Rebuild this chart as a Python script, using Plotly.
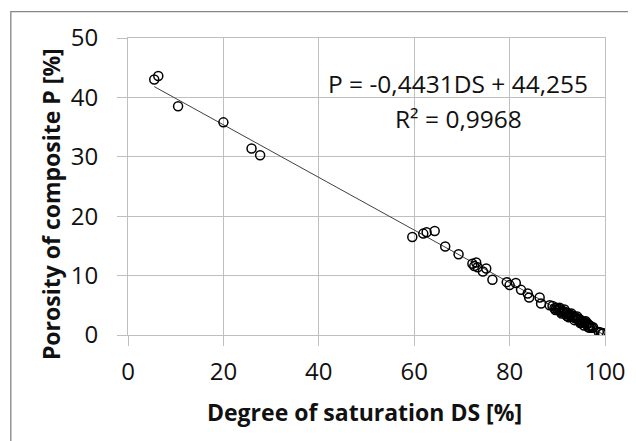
import plotly.graph_objects as go

# Data
ds = [5.5, 6.35, 10.5, 20.0, 25.9, 27.7,
      59.6, 61.9, 62.6, 64.3, 66.5, 69.3,
      72.2, 72.6, 73.0, 73.3, 74.4, 75.1, 76.4,
      79.4, 80.0, 81.3, 82.4, 83.8, 84.1, 86.3, 86.6, 88.4,
      89.0, 89.4, 89.8, 90.1, 90.4, 90.5, 90.7, 91.0, 91.3, 91.5, 91.6, 91.9,
      92.0, 92.2, 92.5, 92.8, 93.0, 93.1, 93.4, 93.7, 94.0, 94.2, 94.3, 94.6,
      94.9, 95.0, 95.2, 95.5, 95.8, 96.0, 96.1, 96.4, 96.7, 96.8, 97.0, 97.3, 97.5,
      89.6, 90.9, 92.4, 93.6, 94.8, 95.6, 96.5,
      98.7, 99.1, 99.4, 99.6]
porosity = [43.0, 43.6, 38.5, 35.8, 31.4, 30.25,
            16.5, 17.07, 17.3, 17.5, 14.9, 13.6,
            12.0, 11.6, 12.2, 11.4, 10.7, 11.2, 9.3,
            8.9, 8.4, 8.75, 7.6, 7.0, 6.3, 6.3, 5.3, 5.0,
            4.9, 4.5, 4.6, 4.2, 4.4, 4.6, 3.9, 4.1, 3.8, 4.3, 3.9, 3.6,
            3.2, 3.7, 3.3, 3.4, 3.6, 3.1, 3.2, 2.8, 2.9, 3.1, 2.6, 2.7,
            2.3, 2.0, 2.4, 2.1, 2.2, 2.3, 1.8, 1.9, 1.6, 1.2, 1.5, 1.2, 1.3,
            4.2, 3.6, 3.0, 2.5, 2.0, 1.6, 1.3,
            0.5, 0.4, 0.2, 0.3]

slope = -0.4431
intercept = 44.255
r2 = 0.9968

x_ticks = [0, 20, 40, 60, 80, 100]
y_ticks = [0, 10, 20, 30, 40, 50]

x_title = "Degree of saturation DS [%]"
y_title = "Porosity of composite P [%]"
eq_text = "P = -0,4431DS + 44,255"
r2_text = "R² = 0,9968"

trend_x = [min(ds), max(ds)]
trend_y = [slope * v + intercept for v in trend_x]

FONT = "Open Sans"
GRID = "#bfbfbf"

fig = go.Figure()
fig.add_trace(go.Scatter(x=trend_x, y=trend_y, mode="lines",
                         line=dict(color="#404040", width=1),
                         hoverinfo="skip", showlegend=False))
fig.add_trace(go.Scatter(x=ds, y=porosity, mode="markers",
                         marker=dict(symbol="circle-open", size=9, color="black",
                                     line=dict(width=1.5, color="black")),
                         showlegend=False))

axis_common = dict(showgrid=True, gridcolor=GRID, gridwidth=1,
                   showline=True, linecolor=GRID, linewidth=1, mirror=True,
                   ticks="outside", ticklen=10, tickcolor=GRID, tickwidth=1,
                   zeroline=False, ticklabeloverflow="allow",
                   tickfont=dict(family=FONT, size=24, color="#111111"))

fig.update_xaxes(range=[0, 100], tickvals=x_ticks, ticklabelstandoff=5, **axis_common)
fig.update_yaxes(range=[0, 50], tickvals=y_ticks, ticklabelstandoff=14, **axis_common)

# page body has an 8px margin, so the figure is shifted by OFF on screen
OFF = 8
W, H = 636, 441
L, T = 128 - OFF, 38 - OFF
pw, ph = 477.5, 297
R = W - L - pw
B = H - T - ph


def px(xs):
    return (xs - OFF - L) / pw


def py(ys):
    return (T + ph - (ys - OFF)) / ph


fig.add_shape(type="rect", xref="paper", yref="paper",
              x0=px(322), x1=px(598), y0=py(138), y1=py(62),
              fillcolor="white", line=dict(width=0), layer="between")
fig.add_shape(type="rect", xref="paper", yref="paper",
              x0=px(10.7), x1=px(700), y0=py(500), y1=py(11.7),
              fillcolor="rgba(0,0,0,0)", line=dict(color="#868686", width=1.3))

fig.add_annotation(text=eq_text, xref="paper", yref="paper",
                   x=px(458.5), y=py(83.3), showarrow=False,
                   xanchor="center", yanchor="middle",
                   font=dict(family=FONT, size=24.5, color="#111111"))
fig.add_annotation(text=r2_text, xref="paper", yref="paper",
                   x=px(459), y=py(118), showarrow=False,
                   xanchor="center", yanchor="middle",
                   font=dict(family=FONT, size=24.5, color="#111111"))
fig.add_annotation(text="<b>" + x_title + "</b>", xref="paper", yref="paper",
                   x=px(364.5), y=py(412), showarrow=False,
                   xanchor="center", yanchor="middle",
                   font=dict(family=FONT, size=23, color="#111111"))
fig.add_annotation(text="<b>" + y_title + "</b>", xref="paper", yref="paper",
                   x=px(51), y=py(204), showarrow=False, textangle=-90,
                   xanchor="center", yanchor="middle",
                   font=dict(family=FONT, size=23, color="#111111"))

fig.update_layout(width=W, height=H,
                  margin=dict(l=L, r=R, t=T, b=B, pad=0),
                  paper_bgcolor="white", plot_bgcolor="white")

fig.write_html("out.html")
